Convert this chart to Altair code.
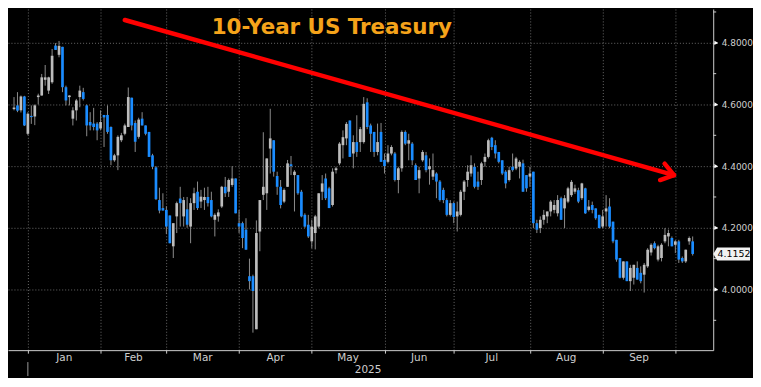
import altair as alt
import pandas as pd

# ---- data (one candle per trading day, late Dec 2024 .. early Oct 2025) ----
opens = [
    4.585, 4.597, 4.581, 4.626, 4.505, 4.563, 4.561, 4.624, 4.629, 4.680,
    4.645, 4.672, 4.791, 4.761, 4.787, 4.656, 4.624, 4.554, 4.581, 4.624,
    4.640, 4.597, 4.543, 4.538, 4.538, 4.522, 4.566, 4.566, 4.527, 4.419,
    4.435, 4.484, 4.505, 4.527, 4.622, 4.540, 4.495, 4.554, 4.532, 4.511,
    4.435, 4.396, 4.290, 4.264, 4.258, 4.240, 4.140, 4.237, 4.295, 4.237,
    4.260, 4.204, 4.280, 4.317, 4.285, 4.290, 4.300, 4.290, 4.226, 4.237,
    4.269, 4.333, 4.317, 4.339, 4.360, 4.215, 4.215, 4.194, 4.043, 4.043,
    3.871, 4.188, 4.307, 4.312, 4.457, 4.484, 4.368, 4.333, 4.285, 4.333,
    4.406, 4.371, 4.371, 4.317, 4.242, 4.210, 4.156, 4.183, 4.204, 4.317,
    4.360, 4.328, 4.274, 4.387, 4.409, 4.468, 4.490, 4.548, 4.441, 4.478,
    4.478, 4.478, 4.607, 4.532, 4.511, 4.446, 4.511, 4.420, 4.414, 4.441,
    4.441, 4.355, 4.393, 4.511, 4.473, 4.473, 4.403, 4.360, 4.419, 4.435,
    4.390, 4.366, 4.376, 4.350, 4.323, 4.290, 4.242, 4.280, 4.237, 4.242,
    4.317, 4.355, 4.376, 4.398, 4.350, 4.355, 4.414, 4.430, 4.492, 4.468,
    4.446, 4.419, 4.382, 4.355, 4.398, 4.392, 4.398, 4.409, 4.371, 4.366,
    4.382, 4.215, 4.199, 4.226, 4.237, 4.253, 4.258, 4.247, 4.296, 4.263,
    4.285, 4.306, 4.317, 4.322, 4.296, 4.328, 4.258, 4.274, 4.263, 4.242,
    4.204, 4.253, 4.269, 4.220, 4.161, 4.102, 4.038, 4.091, 4.027, 4.038,
    4.070, 4.054, 4.048, 4.075, 4.120, 4.150, 4.097, 4.102, 4.156, 4.172,
    4.167, 4.145, 4.156, 4.102, 4.091, 4.156, 4.156,
]
highs = [
    4.624, 4.640, 4.629, 4.628, 4.575, 4.597, 4.600, 4.635, 4.699, 4.728,
    4.690, 4.780, 4.799, 4.806, 4.787, 4.661, 4.630, 4.591, 4.618, 4.661,
    4.654, 4.600, 4.575, 4.589, 4.543, 4.581, 4.566, 4.597, 4.529, 4.440,
    4.500, 4.508, 4.538, 4.655, 4.622, 4.548, 4.557, 4.575, 4.532, 4.511,
    4.440, 4.400, 4.330, 4.312, 4.270, 4.240, 4.215, 4.285, 4.333, 4.300,
    4.300, 4.296, 4.330, 4.350, 4.323, 4.330, 4.333, 4.317, 4.247, 4.260,
    4.336, 4.365, 4.360, 4.400, 4.360, 4.258, 4.220, 4.231, 4.100, 4.048,
    4.224, 4.290, 4.510, 4.425, 4.586, 4.484, 4.382, 4.355, 4.328, 4.420,
    4.433, 4.387, 4.371, 4.323, 4.247, 4.242, 4.226, 4.242, 4.312, 4.371,
    4.376, 4.333, 4.393, 4.398, 4.478, 4.516, 4.543, 4.548, 4.500, 4.565,
    4.527, 4.624, 4.620, 4.538, 4.511, 4.538, 4.540, 4.441, 4.468, 4.468,
    4.446, 4.398, 4.516, 4.516, 4.505, 4.478, 4.409, 4.398, 4.452, 4.446,
    4.425, 4.441, 4.380, 4.355, 4.330, 4.296, 4.290, 4.285, 4.285, 4.323,
    4.355, 4.403, 4.435, 4.409, 4.382, 4.414, 4.441, 4.489, 4.495, 4.484,
    4.446, 4.419, 4.387, 4.398, 4.441, 4.430, 4.419, 4.421, 4.371, 4.398,
    4.382, 4.226, 4.237, 4.258, 4.253, 4.290, 4.290, 4.306, 4.301, 4.306,
    4.333, 4.355, 4.340, 4.330, 4.346, 4.330, 4.290, 4.285, 4.263, 4.242,
    4.258, 4.306, 4.296, 4.220, 4.161, 4.102, 4.091, 4.091, 4.080, 4.080,
    4.091, 4.075, 4.086, 4.134, 4.150, 4.156, 4.145, 4.150, 4.199, 4.194,
    4.172, 4.160, 4.161, 4.107, 4.129, 4.172, 4.172,
]
lows = [
    4.581, 4.575, 4.574, 4.530, 4.500, 4.537, 4.533, 4.600, 4.629, 4.661,
    4.634, 4.667, 4.777, 4.753, 4.640, 4.597, 4.597, 4.532, 4.548, 4.591,
    4.613, 4.497, 4.516, 4.516, 4.484, 4.516, 4.462, 4.505, 4.403, 4.414,
    4.387, 4.478, 4.500, 4.527, 4.516, 4.446, 4.489, 4.532, 4.500, 4.430,
    4.390, 4.290, 4.247, 4.256, 4.180, 4.150, 4.102, 4.183, 4.204, 4.204,
    4.200, 4.150, 4.258, 4.258, 4.264, 4.258, 4.269, 4.234, 4.172, 4.220,
    4.264, 4.300, 4.300, 4.333, 4.247, 4.183, 4.134, 4.129, 4.000, 3.860,
    3.871, 4.124, 4.290, 4.258, 4.376, 4.366, 4.307, 4.263, 4.280, 4.333,
    4.371, 4.253, 4.307, 4.234, 4.200, 4.167, 4.134, 4.130, 4.198, 4.290,
    4.290, 4.264, 4.269, 4.376, 4.403, 4.425, 4.468, 4.430, 4.393, 4.430,
    4.446, 4.473, 4.520, 4.446, 4.430, 4.435, 4.414, 4.376, 4.409, 4.435,
    4.350, 4.312, 4.382, 4.468, 4.419, 4.403, 4.355, 4.312, 4.414, 4.380,
    4.340, 4.355, 4.296, 4.285, 4.280, 4.237, 4.237, 4.215, 4.188, 4.237,
    4.290, 4.333, 4.366, 4.328, 4.323, 4.339, 4.398, 4.425, 4.452, 4.425,
    4.409, 4.371, 4.328, 4.350, 4.382, 4.387, 4.360, 4.317, 4.317, 4.333,
    4.199, 4.183, 4.183, 4.210, 4.215, 4.237, 4.247, 4.237, 4.226, 4.199,
    4.280, 4.300, 4.310, 4.280, 4.290, 4.245, 4.253, 4.247, 4.226, 4.199,
    4.199, 4.204, 4.199, 4.150, 4.090, 4.036, 4.032, 4.027, 3.995, 4.016,
    4.032, 4.020, 3.990, 4.070, 4.110, 4.130, 4.091, 4.091, 4.150, 4.140,
    4.140, 4.118, 4.086, 4.086, 4.086, 4.145, 4.110,
]
closes = [
    4.590, 4.580, 4.626, 4.532, 4.570, 4.559, 4.597, 4.629, 4.688, 4.688,
    4.688, 4.758, 4.777, 4.790, 4.656, 4.613, 4.629, 4.581, 4.613, 4.645,
    4.618, 4.532, 4.532, 4.527, 4.516, 4.543, 4.558, 4.511, 4.419, 4.435,
    4.495, 4.500, 4.532, 4.624, 4.532, 4.479, 4.551, 4.532, 4.505, 4.430,
    4.398, 4.293, 4.256, 4.256, 4.204, 4.150, 4.215, 4.280, 4.280, 4.290,
    4.210, 4.280, 4.312, 4.264, 4.301, 4.300, 4.280, 4.237, 4.242, 4.250,
    4.333, 4.312, 4.355, 4.360, 4.247, 4.204, 4.167, 4.129, 4.027, 3.995,
    4.183, 4.290, 4.333, 4.425, 4.490, 4.382, 4.333, 4.274, 4.323, 4.409,
    4.400, 4.382, 4.312, 4.237, 4.204, 4.172, 4.204, 4.237, 4.312, 4.344,
    4.296, 4.264, 4.382, 4.393, 4.473, 4.494, 4.537, 4.430, 4.478, 4.446,
    4.520, 4.602, 4.527, 4.505, 4.446, 4.478, 4.414, 4.400, 4.441, 4.462,
    4.355, 4.393, 4.511, 4.473, 4.484, 4.419, 4.355, 4.387, 4.446, 4.387,
    4.400, 4.387, 4.350, 4.290, 4.290, 4.242, 4.280, 4.235, 4.253, 4.317,
    4.350, 4.382, 4.403, 4.333, 4.333, 4.409, 4.430, 4.484, 4.462, 4.441,
    4.414, 4.376, 4.344, 4.387, 4.387, 4.425, 4.414, 4.317, 4.328, 4.376,
    4.215, 4.194, 4.226, 4.242, 4.253, 4.285, 4.274, 4.290, 4.226, 4.296,
    4.328, 4.349, 4.328, 4.285, 4.344, 4.247, 4.269, 4.258, 4.231, 4.199,
    4.237, 4.263, 4.204, 4.156, 4.097, 4.038, 4.091, 4.027, 4.070, 4.080,
    4.032, 4.027, 4.080, 4.129, 4.145, 4.134, 4.140, 4.145, 4.177, 4.183,
    4.140, 4.156, 4.097, 4.091, 4.129, 4.167, 4.1152,
]

month_names = ["Jan", "Feb", "Mar", "Apr", "May", "Jun", "Jul", "Aug", "Sep"]
month_start_idx = [4, 25, 44, 65, 86, 107, 127, 149, 170, 191]  # candle index of first trading day
year_label = "2025"
y_major = [4.0, 4.2, 4.4, 4.6, 4.8]
y_minor = [3.9, 4.1, 4.3, 4.5, 4.7, 4.9]
last_value = 4.1152
title_text = "10-Year US Treasury"
# trend arrow in data coordinates (candle index, yield)
arrow_x1 = [32.0, 190.6, 190.6]
arrow_y1 = [4.874, 4.371, 4.371]
arrow_x2 = [190.6, 187.9, 186.6]
arrow_y2 = [4.371, 4.408, 4.355]

assert len(opens) == len(highs) == len(lows) == len(closes)

# ---- layout / style ----
W, H = 709, 343
BLUE = "#1a8cff"
UP = "#bdbdbd"
WICK = "#8c8c8c"
AXIS = "#cfcfcf"
GRID = "#6a6a6a"
FONT = "DejaVu Sans"

df = pd.DataFrame({"idx": list(range(len(opens))), "open": opens, "high": highs,
                   "low": lows, "close": closes})
months = pd.DataFrame({"name": month_names,
                       "mid": [(a + b) / 2 for a, b in zip(month_start_idx[:-1], month_start_idx[1:])]})
arrow = pd.DataFrame({"x": arrow_x1, "y": arrow_y1, "x2": arrow_x2, "y2": arrow_y2})
majors = pd.DataFrame({"v": y_major})
minors = pd.DataFrame({"v": y_minor})
last = pd.DataFrame({"v": [last_value], "t": [f"{last_value:.4f}"]})

xs = alt.Scale(domain=[-0.3, 200.5], nice=False, zero=False)
ys = alt.Scale(domain=[3.8032, 4.9097], nice=False, zero=False)

x_axis = alt.Axis(values=month_start_idx, labels=False, title=None, ticks=True, tickSize=3,
                  tickColor=AXIS, domainColor=AXIS, grid=True, gridColor=GRID,
                  gridDash=[1, 2], gridWidth=1)
y_axis = alt.Axis(orient="right", values=y_major, format=".4f", title=None, tickSize=4,
                  tickColor=AXIS, domainColor=AXIS, labelColor=AXIS, labelFont=FONT,
                  labelFontSize=9, labelPadding=4, grid=True, gridColor=GRID,
                  gridDash=[1, 2], gridWidth=1)


def X(field):
    return alt.X(field, scale=xs, axis=x_axis)


def Y(field):
    return alt.Y(field, scale=ys, axis=y_axis)


wicks = alt.Chart(df).mark_rule(color=WICK, strokeWidth=1).encode(
    x=X("idx:Q"), y=Y("low:Q"), y2="high:Q",
)
bodies = alt.Chart(df).mark_bar(size=2.7).encode(
    x=X("idx:Q"), y=Y("open:Q"), y2="close:Q",
    color=alt.condition("datum.close < datum.open", alt.value(BLUE), alt.value(UP)),
)
arrow_layer = alt.Chart(arrow).mark_rule(color="#ff0000", strokeWidth=4.5, strokeCap="round").encode(
    x=X("x:Q"), y=Y("y:Q"), x2="x2:Q", y2="y2:Q",
)
title = alt.Chart(pd.DataFrame({"t": [title_text]})).mark_text(
    color="#f5a31a", font=FONT, fontSize=21.5, fontWeight="bold", align="center",
    baseline="alphabetic",
).encode(text="t:N", x=alt.value(325.5), y=alt.value(25))

month_text = alt.Chart(months).mark_text(
    color=AXIS, font=FONT, fontSize=10.5, baseline="middle", align="center",
).encode(x=X("mid:Q"), y=alt.value(H + 8), text="name:N")

year_mid = (month_start_idx[0] + 200.5) / 2
year_text = alt.Chart(pd.DataFrame({"t": [year_label], "x": [year_mid]})).mark_text(
    color=AXIS, font=FONT, fontSize=10.5, baseline="middle", align="center",
).encode(x=X("x:Q"), y=alt.value(H + 20), text="t:N")

year_tick = alt.Chart(pd.DataFrame({"x": [month_start_idx[0]]})).mark_rule(
    color="#9a9a9a", strokeWidth=1,
).encode(x=X("x:Q"), y=alt.value(H + 12), y2=alt.value(H + 26))

minor_ticks = alt.Chart(minors).mark_rule(color=AXIS, strokeWidth=1).encode(
    y=Y("v:Q"), x=alt.value(W), x2=alt.value(W + 3),
)
major_marks = alt.Chart(majors).mark_point(
    shape="triangle-right", filled=True, color="#ffffff", size=18, opacity=1,
).encode(y=Y("v:Q"), x=alt.value(W + 3))

box_path = "M-1.24,0 L-1,-0.394 L1,-0.394 L1,0.394 L-1,0.394 Z"
last_box = alt.Chart(last).mark_point(
    shape=box_path, filled=True, color="#f2f2f2", size=1089, opacity=1,
).encode(y=Y("v:Q"), x=alt.value(W + 20.5))
last_text = alt.Chart(last).mark_text(
    color="#000000", font=FONT, fontSize=9.5, align="center", baseline="middle",
).encode(y=Y("v:Q"), x=alt.value(W + 21), text="t:N")

chart = alt.layer(
    wicks, bodies, arrow_layer, title, month_text, year_text, year_tick,
    minor_ticks, major_marks, last_box, last_text,
).properties(
    width=W, height=H, background="#000000", padding=0,
).configure_view(stroke=None)

chart.save("out.html", embed_options={"renderer": "svg", "actions": False})
